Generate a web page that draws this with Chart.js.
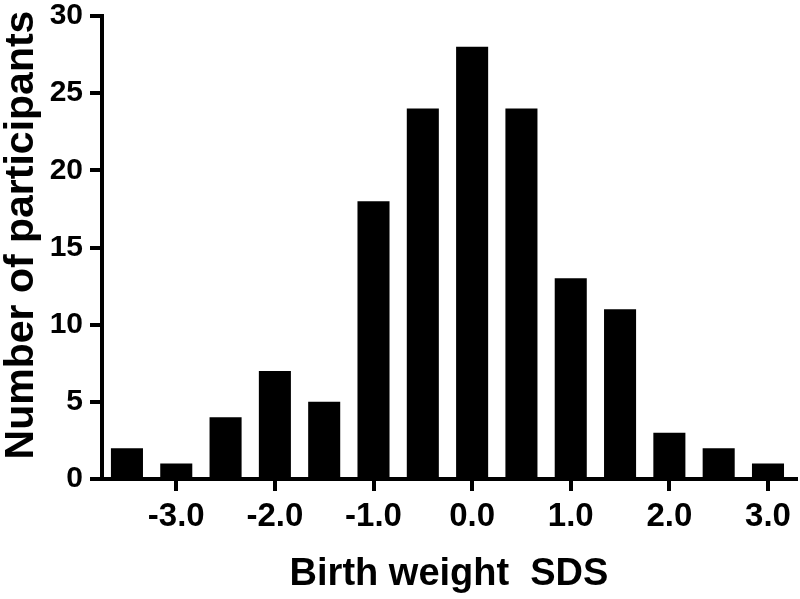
<!DOCTYPE html>
<html>
<head>
<meta charset="utf-8">
<script src="https://cdn.jsdelivr.net/npm/chart.js@4.4.1/dist/chart.umd.min.js"></script>
<style>
    html, body { margin: 0; padding: 0; background: #fff; }
    #wrap { width: 800px; height: 599px; }
</style>
</head>
<body>
<div id="wrap"><canvas id="histChart"></canvas></div>
<script>
// bin centres (SDS) and counts
const binCentres = [-3.5, -3.0, -2.5, -2.0, -1.5, -1.0, -0.5, 0.0, 0.5, 1.0, 1.5, 2.0, 2.5, 3.0];
const counts = [2, 1, 4, 7, 5, 18, 24, 28, 24, 13, 11, 3, 2, 1];
const xTickValues = [-3, -2, -1, 0, 1, 2, 3];
const yTickValues = [0, 5, 10, 15, 20, 25, 30];
const yTitle = 'Number of participants';

const FONT = 'Liberation Sans, Arial, Helvetica, sans-serif';

// y title drawn by hand so it can sit a little above the plot centre, as in the original
const yTitlePlugin = {
    id: 'yTitle',
    afterDraw(chart) {
        const ctx = chart.ctx;
        ctx.save();
        ctx.translate(22, 235);
        ctx.rotate(-Math.PI / 2);
        ctx.fillStyle = '#000';
        ctx.font = 'bold 41px ' + FONT;
        ctx.textAlign = 'center';
        ctx.textBaseline = 'middle';
        ctx.fillText(yTitle, 0, 0);
        ctx.restore();
    }
};

new Chart(document.getElementById('histChart').getContext('2d'), {
    type: 'bar',
    data: {
        datasets: [{
            data: binCentres.map((x, i) => ({ x: x, y: counts[i] })),
            backgroundColor: '#000',
            borderWidth: 0,
            barPercentage: 0.65,
            categoryPercentage: 1.0
        }]
    },
    options: {
        responsive: true,
        maintainAspectRatio: false,
        animation: false,
        layout: { padding: { top: 0, right: 4, left: 0, bottom: 0 } },
        plugins: {
            legend: { display: false },
            tooltip: { enabled: false }
        },
        scales: {
            x: {
                type: 'linear',
                offset: false,
                min: -3.753,
                max: 3.284,
                afterBuildTicks: (scale) => {
                    scale.ticks = xTickValues.map(v => ({ value: v }));
                },
                afterFit: (scale) => { scale.height = 120; },
                grid: {
                    offset: false,
                    drawOnChartArea: false,
                    drawTicks: true,
                    tickLength: 12,
                    color: '#000',
                    lineWidth: 4
                },
                border: { display: true, color: '#000', width: 4 },
                ticks: {
                    color: '#000',
                    padding: 6,
                    maxRotation: 0,
                    autoSkip: false,
                    font: { family: FONT, size: 33, weight: 'bold' },
                    callback: (v) => v.toFixed(1)
                },
                title: {
                    display: true,
                    text: 'Birth weight  SDS',
                    color: '#000',
                    padding: { top: 0, bottom: 2 },
                    font: { family: FONT, size: 38, weight: 'bold' }
                }
            },
            y: {
                min: 0,
                max: 30,
                afterBuildTicks: (scale) => {
                    scale.ticks = yTickValues.map(v => ({ value: v }));
                },
                afterFit: (scale) => { scale.width = 102; },
                grid: {
                    drawOnChartArea: false,
                    drawTicks: true,
                    tickLength: 12,
                    color: '#000',
                    lineWidth: 4
                },
                border: { display: true, color: '#000', width: 4 },
                ticks: {
                    color: '#000',
                    padding: 7,
                    font: { family: FONT, size: 30, weight: 'bold', lineHeight: 0.6 }
                },
                title: { display: false }
            }
        }
    },
    plugins: [yTitlePlugin]
});
</script>
</body>
</html>
